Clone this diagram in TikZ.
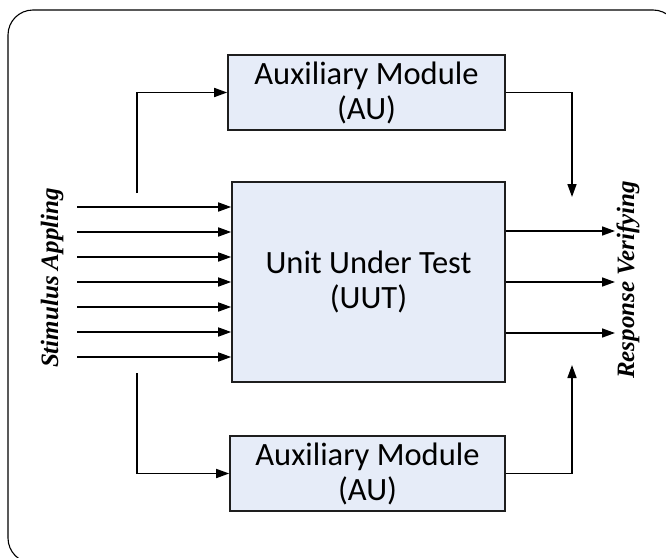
\documentclass[tikz,border=0pt]{standalone}
\usepackage{fontspec}
\setmainfont{Carlito}
\newfontfamily\sidefont{Liberation Serif}
\usetikzlibrary{arrows.meta,calc}
\definecolor{boxfill}{RGB}{230,236,248}
\definecolor{boxline}{RGB}{30,30,30}
\tikzset{
  modbox/.style={draw=boxline, line width=1.6pt, fill=boxfill, align=center,
    inner sep=0pt, font=\fontsize{32.5}{35}\selectfont},
  flow/.style={line width=1.6pt, draw=black,
    -{Triangle[length=13pt,width=9pt]}},
  sidelabel/.style={rotate=90, font=\sidefont\bfseries\itshape\fontsize{25}{28}\selectfont}
}
\begin{document}
\begin{tikzpicture}[x=1pt,y=-1pt]
  \useasboundingbox (0,0) rectangle (666,557);
  \clip (0,0) rectangle (666,557);
  % frame around the whole test setup
  \draw[line width=1.1pt, rounded corners=25pt] (8,10) rectangle (678,563);

  % blocks
  \node[modbox, minimum width=277pt, minimum height=75pt] (au1) at (366.5,92.5)
    {Auxiliary Module\\(AU)};
  \node[modbox, minimum width=273pt, minimum height=200pt] (uut) at (368.5,282)
    {Unit Under Test\\(UUT)};
  \node[modbox, minimum width=275pt, minimum height=75pt] (au2) at (367.5,473.5)
    {Auxiliary Module\\(AU)};

  % side labels
  \node[sidelabel] (stim) at (52,278) {Stimulus Appling};
  \node[sidelabel] (resp) at (628,280) {Response Verifying};

  % stimulus lines into the UUT
  \foreach \k in {0,...,6} {
    \coordinate (in\k) at (77,{207+25*\k});
    \draw[flow] (in\k) -- (in\k -| uut.west);
  }

  % taps feeding the auxiliary modules
  \coordinate (tapU) at (137,193);
  \coordinate (tapD) at (137,373);
  \draw[flow] (tapU) |- (au1.west);
  \draw[flow] (tapD) |- (au2.west);

  % auxiliary module outputs towards the response side
  \coordinate (outU) at (572,197);
  \coordinate (outD) at (572,365);
  \draw[flow] (au1.east) -| (outU);
  \draw[flow] (au2.east) -| (outD);

  % UUT responses
  \coordinate (out1) at (615,231);
  \coordinate (out2) at (615,282);
  \coordinate (out3) at (615,333);
  \foreach \o in {out1,out2,out3} {
    \draw[flow] (uut.east |- \o) -- (\o);
  }
\end{tikzpicture}
\end{document}
